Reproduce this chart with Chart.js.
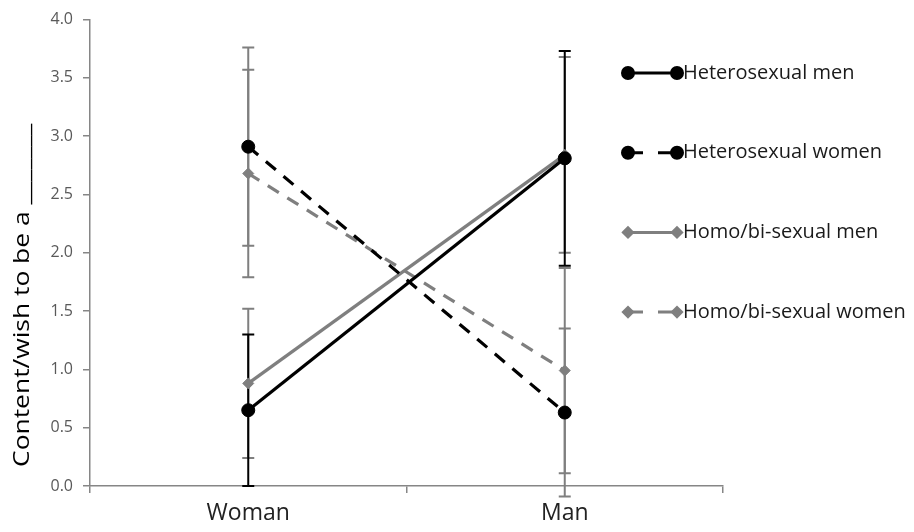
<!DOCTYPE html>
<html><head><meta charset="utf-8">
<script src="https://cdn.jsdelivr.net/npm/chart.js@4"></script>
<style>html,body{margin:0;padding:0;background:#fff}#wrap{width:914px;height:532px;position:relative}</style>
</head><body><div id="wrap"><canvas id="c" width="914" height="532"></canvas></div>
<script>
// ---- data ----
const categories = ['Woman', 'Man'];
const seriesNames = ['Heterosexual men', 'Heterosexual women', 'Homo/bi-sexual men', 'Homo/bi-sexual women'];
const heteroMen = [0.65, 2.81];
const heteroWomen = [2.91, 0.63];
const homoMen = [0.88, 2.84];
const homoWomen = [2.68, 0.99];
const heteroMenErr = [0.65, 0.92];
const heteroWomenErr = [0.85, 0.72];
const homoMenErr = [0.64, 0.84];
const homoWomenErr = [0.89, 0.88];
const yTicks = [0, 0.5, 1.0, 1.5, 2.0, 2.5, 3.0, 3.5, 4.0];
const yTitle = 'Content/wish to be a _______';

const BLACK = '#000000', GREY = '#7f7f7f';
const FONT = "'Open Sans', sans-serif";

function ds(label, data, err, color, errColor, dashed, style, radius) {
  return {
    label, data, errors: err, errColor,
    borderColor: color, backgroundColor: color,
    borderWidth: 3.2, borderDash: dashed ? [13, 10] : [],
    pointStyle: style, pointRadius: radius, pointHoverRadius: radius,
    pointBackgroundColor: color, pointBorderColor: color, pointBorderWidth: 1,
    tension: 0, fill: false
  };
}

const errorBarPlugin = {
  id: 'errorBars',
  beforeDatasetsDraw(chart) {
    const ctx = chart.ctx, xs = chart.scales.x, ys = chart.scales.y;
    const order = chart.data.datasets.map((d, i) => i).sort((a, b) =>
      (chart.data.datasets[a].errColor === BLACK) - (chart.data.datasets[b].errColor === BLACK));
    order.forEach(i => {
      const d = chart.data.datasets[i];
      d.data.forEach((v, j) => {
        const x = xs.getPixelForValue(j);
        const yt = ys.getPixelForValue(v + d.errors[j]);
        const yb = ys.getPixelForValue(v - d.errors[j]);
        ctx.save();
        ctx.strokeStyle = d.errColor; ctx.lineWidth = 2;
        ctx.beginPath();
        ctx.moveTo(x, yt); ctx.lineTo(x, yb);
        ctx.moveTo(x - 6, yt); ctx.lineTo(x + 6, yt);
        ctx.moveTo(x - 6, yb); ctx.lineTo(x + 6, yb);
        ctx.stroke();
        ctx.restore();
      });
    });
  }
};

const customLegend = {
  id: 'customLegend',
  afterDraw(chart) {
    const ctx = chart.ctx;
    const x0 = 628, x1 = 677, tx = 683, y0 = 73, step = 79.7;
    chart.data.datasets.forEach((d, i) => {
      const y = y0 + i * step;
      ctx.save();
      ctx.strokeStyle = d.borderColor; ctx.lineWidth = 3;
      if (d.borderDash.length) ctx.setLineDash([15, 15]);
      ctx.beginPath(); ctx.moveTo(x0, y); ctx.lineTo(x1, y); ctx.stroke();
      ctx.setLineDash([]);
      const opts = { pointStyle: d.pointStyle, radius: d.pointRadius - 1, borderWidth: 1, rotation: 0 };
      ctx.fillStyle = d.borderColor; ctx.strokeStyle = d.borderColor;
      Chart.helpers.drawPoint(ctx, opts, x0, y);
      Chart.helpers.drawPoint(ctx, opts, x1, y);
      ctx.fillStyle = '#1a1a1a';
      ctx.font = '20px ' + FONT;
      ctx.textBaseline = 'middle'; ctx.textAlign = 'left';
      ctx.fillText(d.label, tx, y);
      ctx.restore();
    });
  }
};

const yTitlePlugin = {
  id: 'yTitle',
  afterDraw(chart) {
    const ctx = chart.ctx;
    ctx.save();
    ctx.translate(29, 467);
    ctx.rotate(-Math.PI / 2);
    ctx.scale(1.2, 1);
    ctx.font = '22px ' + FONT;
    ctx.fillStyle = '#000';
    ctx.textAlign = 'left'; ctx.textBaseline = 'alphabetic';
    ctx.fillText(yTitle, 0, 0);
    ctx.restore();
  }
};

new Chart(document.getElementById('c'), {
  type: 'line',
  data: {
    labels: categories,
    datasets: [
      ds(seriesNames[0], heteroMen, heteroMenErr, BLACK, BLACK, false, 'circle', 6.5),
      ds(seriesNames[1], heteroWomen, heteroWomenErr, BLACK, GREY, true, 'circle', 6.5),
      ds(seriesNames[2], homoMen, homoMenErr, GREY, GREY, false, 'rectRot', 5.5),
      ds(seriesNames[3], homoWomen, homoWomenErr, GREY, GREY, true, 'rectRot', 5.5)
    ]
  },
  options: {
    responsive: false, animation: false, devicePixelRatio: 1,
    layout: { padding: { top: 15, right: 191, left: 0, bottom: 0 } },
    plugins: { legend: { display: false }, tooltip: { enabled: false } },
    scales: {
      x: {
        offset: true,
        grid: { display: true, offset: true, drawOnChartArea: false, drawTicks: true, tickLength: 7, color: '#868686', lineWidth: 1.5 },
        border: { display: true, color: '#868686', width: 1.5 },
        ticks: { font: { family: FONT, size: 23 }, color: '#222', padding: 7 },
        afterFit(s) { s.height = 46; }
      },
      y: {
        min: 0, max: 4,
        afterBuildTicks(s) { s.ticks = yTicks.map(v => ({ value: v })); },
        grid: { display: true, drawOnChartArea: false, drawTicks: true, tickLength: 7, color: '#868686', lineWidth: 1.5 },
        border: { display: true, color: '#868686', width: 1.5 },
        ticks: { font: { family: FONT, size: 16 }, color: '#595959', padding: 10, callback: v => Number(v).toFixed(1) },
        afterFit(s) { s.width = 90; }
      }
    }
  },
  plugins: [errorBarPlugin, customLegend, yTitlePlugin]
});
</script></body></html>
